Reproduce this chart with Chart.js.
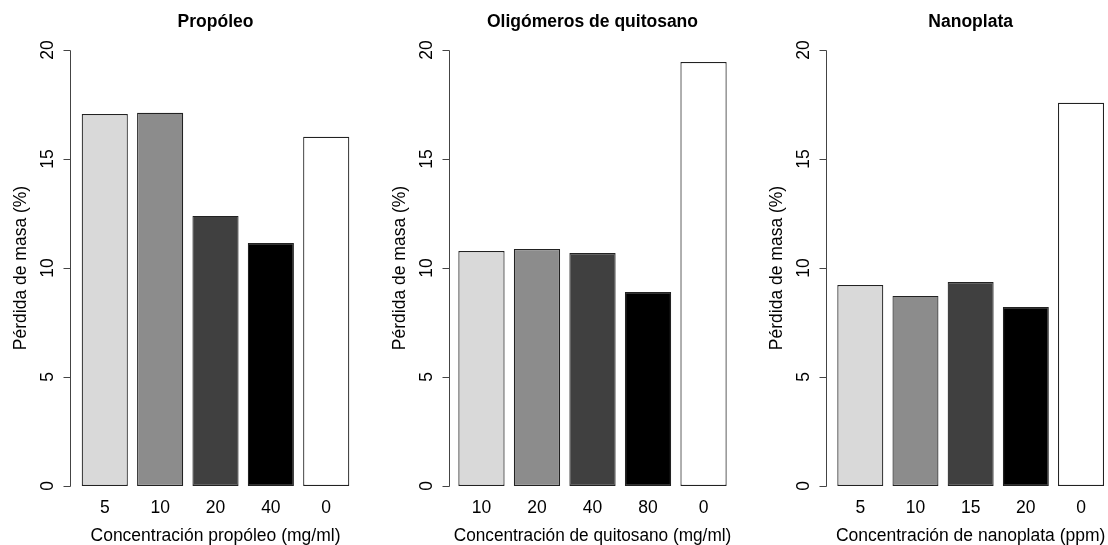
<!DOCTYPE html>
<html><head><meta charset="utf-8">
<script src="https://cdn.jsdelivr.net/npm/chart.js@4.4.1/dist/chart.umd.min.js"></script>
<style>
html,body{margin:0;padding:0;background:#fff;overflow:hidden;}
#wrap{position:relative;width:1108px;height:545px;overflow:hidden;background:#fff;}
canvas{position:absolute;left:0;top:0;}
</style></head><body><div id="wrap">
<canvas id="c1" width="1112" height="545"></canvas>
<canvas id="c2" width="1112" height="545"></canvas>
<canvas id="c3" width="1112" height="545"></canvas>
</div>
<script>
// ---- data ----
const panelTitles = ['Propóleo', 'Oligómeros de quitosano', 'Nanoplata'];
const xAxisTitles = ['Concentración propóleo (mg/ml)', 'Concentración de quitosano (mg/ml)', 'Concentración de nanoplata (ppm)'];
const yAxisTitle = 'Pérdida de masa (%)';
const catsPropoleo = ['5', '10', '20', '40', '0'];
const valsPropoleo = [17.06, 17.12, 12.39, 11.15, 16.02];
const catsQuitosano = ['10', '20', '40', '80', '0'];
const valsQuitosano = [10.78, 10.87, 10.69, 8.90, 19.45];
const catsNanoplata = ['5', '10', '15', '20', '0'];
const valsNanoplata = [9.22, 8.72, 9.36, 8.21, 17.58];
const yMin = 0, yMax = 20, yStep = 5;
const barColors = ['#d9d9d9', '#8c8c8c', '#404040', '#000000', '#ffffff'];

// ---- layout (pixels) ----
const W = 1112;
const layouts = [
  { axisX: 70,  chartLeft: 77.1,  chartRight: 353.9 },
  { axisX: 449, chartLeft: 453.7, chartRight: 731.3 },
  { axisX: 826, chartLeft: 832.7, chartRight: 1108.6 }
];
const FONT = '"Liberation Sans", Arial, Helvetica, sans-serif';
const FS = 17.5;
Chart.defaults.font.family = FONT;
Chart.defaults.font.size = FS;
Chart.defaults.color = '#000';

const rAxis = {
  id: 'rAxis',
  afterDraw(chart, args, opts) {
    const y = chart.scales.y, ctx = chart.ctx;
    const xp = Math.round(opts.x) + 0.5;
    ctx.save();
    ctx.strokeStyle = '#444';
    ctx.lineWidth = 1;
    ctx.beginPath();
    ctx.moveTo(xp, Math.round(y.getPixelForValue(yMin)) + 0.5);
    ctx.lineTo(xp, Math.round(y.getPixelForValue(yMax)) + 0.5);
    y.ticks.forEach(t => {
      const py = Math.round(y.getPixelForValue(t.value)) + 0.5;
      ctx.moveTo(xp, py);
      ctx.lineTo(xp - 7, py);
    });
    ctx.stroke();
    ctx.restore();
  }
};

function makeChart(id, idx, cats, vals) {
  const L = layouts[idx];
  const panelLeft = L.axisX - 70;
  const halfWidest = 9.73;
  new Chart(document.getElementById(id), {
    type: 'bar',
    data: {
      labels: cats,
      datasets: [{
        data: vals,
        backgroundColor: barColors,
        borderColor: '#222',
        borderWidth: 1.2,
        borderSkipped: false,
        categoryPercentage: 1,
        barPercentage: 1 / 1.2
      }]
    },
    plugins: [rAxis],
    options: {
      responsive: false,
      animation: false,
      devicePixelRatio: 1,
      layout: { padding: { left: panelLeft, right: W - L.chartRight, top: 0, bottom: 0 } },
      plugins: {
        legend: { display: false },
        tooltip: { enabled: false },
        rAxis: { x: L.axisX },
        title: {
          display: true, text: panelTitles[idx], fullSize: false,
          font: { weight: 'bold', size: FS }, color: '#000',
          padding: { top: 12, bottom: 17 }
        }
      },
      scales: {
        x: {
          grid: { display: false, drawTicks: false },
          border: { display: false },
          ticks: { padding: 12, color: '#000' },
          title: { display: true, text: xAxisTitles[idx], color: '#000', padding: { top: 0, bottom: -2 } },
          afterFit: s => { s.height = 59; }
        },
        y: {
          min: yMin, max: yMax,
          grid: { display: false, drawTicks: false },
          border: { display: false },
          ticks: {
            stepSize: yStep, minRotation: 90, maxRotation: 90, autoSkip: false,
            crossAlign: 'center', color: '#000',
            padding: L.chartLeft - L.axisX + 22 - halfWidest
          },
          title: { display: true, text: yAxisTitle, color: '#000', padding: { top: 21.5 - FS * 0.6, bottom: 0 } },
          afterFit: s => { s.width = L.chartLeft - panelLeft; }
        }
      }
    }
  });
}
makeChart('c1', 0, catsPropoleo, valsPropoleo);
makeChart('c2', 1, catsQuitosano, valsQuitosano);
makeChart('c3', 2, catsNanoplata, valsNanoplata);
</script>
</body></html>
